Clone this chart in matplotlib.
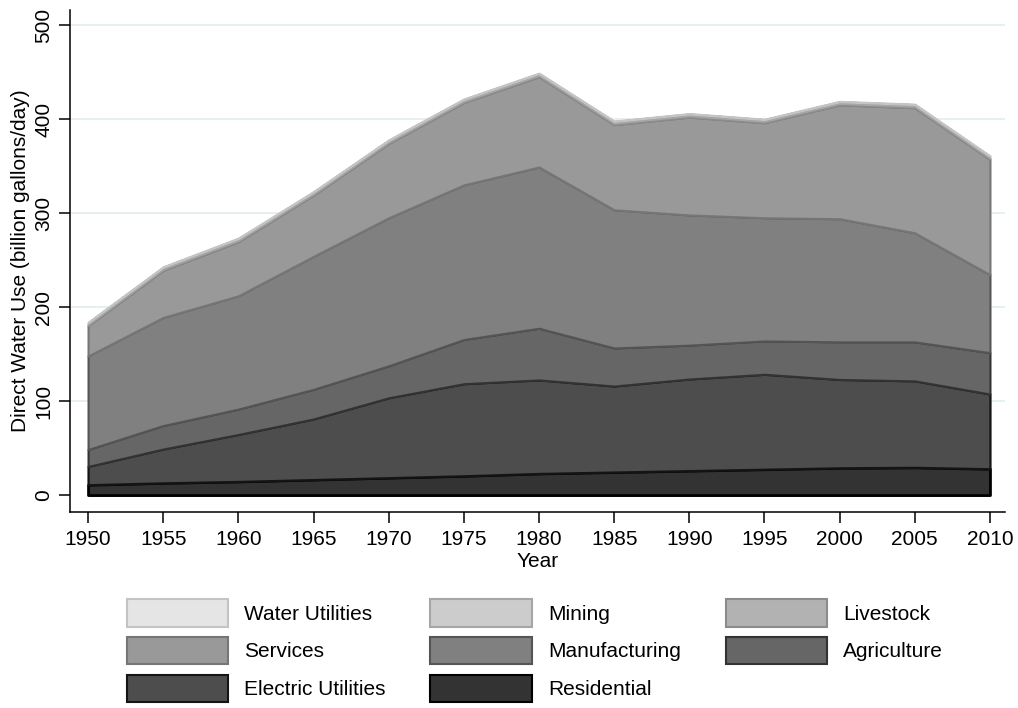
import matplotlib
matplotlib.use("Agg")
import matplotlib.pyplot as plt
from matplotlib.patches import Patch
import numpy as np

plt.rcParams["font.family"] = ["Liberation Sans", "DejaVu Sans"]

years = [1950, 1955, 1960, 1965, 1970, 1975, 1980, 1985, 1990, 1995, 2000, 2005, 2010]

# Direct water use by sector, billion gallons/day (stacked bottom to top)
residential = [11, 13, 14.5, 16.5, 18.5, 20.5, 23, 24.5, 26, 27.5, 29, 29.5, 28]
electric_utilities = [19.5, 36, 50, 64.5, 85, 98, 99.5, 91.5, 97.5, 101, 94, 92, 79.5]
agriculture = [18, 25, 27, 31.5, 34, 47, 55, 40.5, 36, 35.5, 40, 41.5, 44]
manufacturing = [99.5, 115, 120.5, 141.5, 157.5, 164.5, 171.5, 147, 138.5, 131, 131, 116, 83]
services = [32, 50, 57.5, 65, 79, 87.5, 96, 90.5, 104, 101, 121, 133, 122.5]
livestock = [1.5, 1.5, 1.5, 1.5, 1.5, 1.5, 1.5, 1.5, 1.5, 1.5, 1.5, 1.5, 1.5]
mining = [2, 2, 2, 2, 2, 2, 2, 2, 2, 2, 2, 2, 2]
water_utilities = [0.5, 0.5, 0.5, 0.5, 0.5, 0.5, 0.5, 0.5, 0.5, 0.5, 0.5, 0.5, 0.5]

sectors = ["Residential", "Electric Utilities", "Agriculture", "Manufacturing",
           "Services", "Livestock", "Mining", "Water Utilities"]
series = [residential, electric_utilities, agriculture, manufacturing,
          services, livestock, mining, water_utilities]
fills = ["#333333", "#4d4d4d", "#666666", "#808080",
         "#999999", "#b2b2b2", "#cccccc", "#e5e5e5"]
edges = ["#000000", "#141414", "#333333", "#555555",
         "#767676", "#8c8c8c", "#a6a6a6", "#c4c4c4"]
widths = [2.0, 1.6, 1.5, 1.5, 1.5, 1.3, 1.3, 1.3]

fig = plt.figure(figsize=(10.18, 7.08), dpi=100)
ax = fig.add_axes([70 / 1018, 1 - 512 / 708, 935 / 1018, 502 / 708])

yticks = [0, 100, 200, 300, 400, 500]
xticks = years

for yv in yticks[1:]:
    ax.axhline(yv, color="#e4eff1", lw=1.3, zorder=0)

x = np.array(years, dtype=float)
base = np.zeros(len(years))
handles = {}
for name, vals, fc, ec, lw in zip(sectors, series, fills, edges, widths):
    top = base + np.array(vals, dtype=float)
    ax.fill_between(x, base, top, facecolor=fc, edgecolor=ec, linewidth=lw,
                    zorder=2)
    handles[name] = Patch(facecolor=fc, edgecolor=ec, linewidth=1.5, label=name)
    base = top

ax.set_xlim(1948.8, 2011.0)
ax.set_ylim(-18, 516)
ax.set_xticks(xticks)
ax.set_yticks(yticks)
ax.set_yticklabels([str(v) for v in yticks], rotation=90, va="center")

for s in ["top", "right"]:
    ax.spines[s].set_visible(False)
for s in ["left", "bottom"]:
    ax.spines[s].set_linewidth(1.1)
    ax.spines[s].set_color("#000000")

ax.tick_params(axis="both", direction="out", length=8, width=1.1,
               labelsize=15, colors="#000000")
ax.tick_params(axis="y", pad=4)
ax.tick_params(axis="x", pad=5)

ax.set_xlabel("Year", fontsize=15, labelpad=2)
ax.set_ylabel("Direct Water Use (billion gallons/day)", fontsize=15, labelpad=3)

order = ["Water Utilities", "Services", "Electric Utilities",
         "Mining", "Manufacturing", "Residential",
         "Livestock", "Agriculture"]
fig.legend([handles[n] for n in order], order, loc="upper left",
           bbox_to_anchor=(126.7 / 1018, 1 - 599.3 / 708), ncol=3,
           frameon=False, fontsize=15, handlelength=4.88, handleheight=1.65,
           handletextpad=0.75, labelspacing=0.49, columnspacing=2.16,
           borderpad=0, borderaxespad=0)

fig.savefig("out.png", dpi=100)
